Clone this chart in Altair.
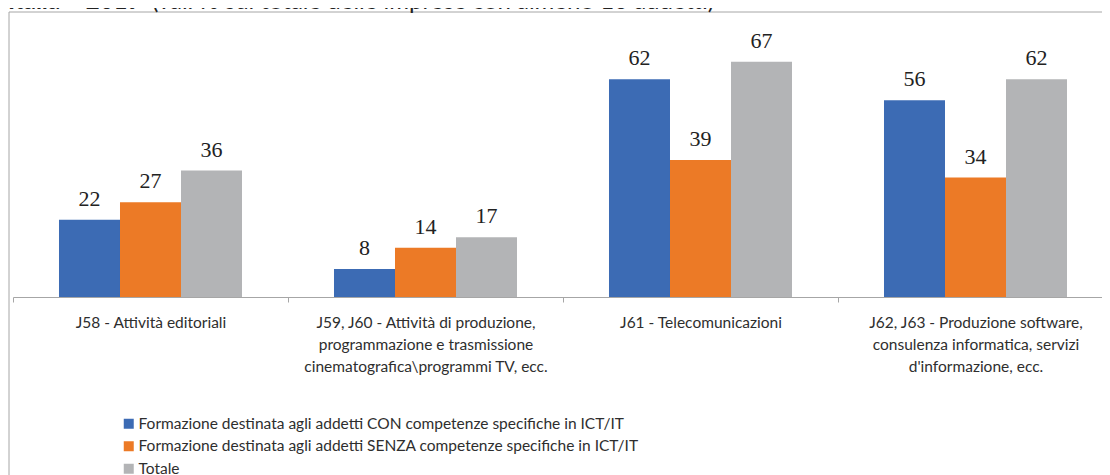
import altair as alt
import pandas as pd

# ---- data ----
categories = [
    "J58 - Attività editoriali",
    "J59, J60 - Attività di produzione,|programmazione e trasmissione|cinematografica\\programmi TV, ecc.",
    "J61 - Telecomunicazioni",
    "J62, J63 - Produzione software,|consulenza informatica, servizi|d'informazione, ecc.",
]
series = [
    "Formazione destinata agli addetti CON competenze specifiche in ICT/IT",
    "Formazione destinata agli addetti SENZA competenze specifiche in ICT/IT",
    "Totale",
]
con = [22, 8, 62, 56]
senza = [27, 14, 39, 34]
totale = [36, 17, 67, 62]
colors = ["#3C6BB4", "#EC7A26", "#B3B4B6"]
title_bold = "Italia – 2019"
title_rest = "(val. % sul totale delle imprese con almeno 10 addetti)"

SANS = "Lato"
SERIF = "Liberation Serif"
TXT = "#2E2E2E"
LINE = "#A6A6A6"

rows = []
for i, c in enumerate(categories):
    for s, vals in zip(series, [con, senza, totale]):
        rows.append({"cat": c, "serie": s, "val": vals[i]})
df = pd.DataFrame(rows)

x = alt.X(
    "cat:N",
    sort=categories,
    title=None,
    scale=alt.Scale(range=[0, 1100], paddingInner=0, paddingOuter=0),
    axis=alt.Axis(
        labelExpr="split(datum.label, '|')",
        labelAngle=0,
        tickBand="extent",
        domainColor=LINE,
        tickColor=LINE,
        tickSize=5,
        labelFont=SANS,
        labelFontSize=15.5,
        labelColor=TXT,
        labelLineHeight=22,
        labelPadding=13,
        labelBaseline="top",
        labelLimit=500,
        grid=False,
    ),
)
xo = alt.XOffset("serie:N", sort=series, scale=alt.Scale(paddingInner=0, paddingOuter=0.754))
y = alt.Y("val:Q", scale=alt.Scale(domain=[0, 80], nice=False), axis=None)

bars = alt.Chart(df).mark_bar().encode(
    x=x,
    xOffset=xo,
    y=y,
    color=alt.Color(
        "serie:N",
        sort=series,
        scale=alt.Scale(domain=series, range=colors),
        legend=alt.Legend(
            title=None,
            orient="none",
            legendX=108,
            legendY=400,
            symbolType="square",
            symbolSize=100,
            symbolStrokeWidth=0,
            labelFont=SANS,
            labelFontSize=15.5,
            labelColor=TXT,
            labelOffset=2,
            rowPadding=5.5,
            padding=0,
            labelLimit=800,
        ),
    ),
)

labels = alt.Chart(df).mark_text(
    font=SERIF, fontSize=22, color="#222222", dy=-14, baseline="alphabetic", align="center"
).encode(x=x, xOffset=xo, y=y, text=alt.Text("val:Q"))

one = pd.DataFrame({"k": [0]})
frame_left = alt.Chart(one).mark_rule(color=LINE, strokeWidth=1).encode(
    x=alt.value(-4), y=alt.value(-4), y2=alt.value(470)
)
frame_top = alt.Chart(one).mark_rule(color=LINE, strokeWidth=1).encode(
    x=alt.value(-4), x2=alt.value(1100), y=alt.value(-4)
)

tb = pd.DataFrame({"t": [title_bold]})
tr = pd.DataFrame({"t": [title_rest]})
t1 = alt.Chart(tb).mark_text(
    font=SANS, fontSize=24, fontWeight="bold", color="#222222", align="left", baseline="alphabetic"
).encode(x=alt.value(-5), y=alt.value(-7), text="t:N")
t2 = alt.Chart(tr).mark_text(
    font=SANS, fontSize=24, color="#222222", align="left", baseline="alphabetic"
).encode(x=alt.value(139), y=alt.value(-7), text="t:N")

chart = (
    alt.layer(bars, labels, frame_left, frame_top, t1, t2)
    .properties(
        width=1089,
        height=281,
        padding={"left": 5, "top": 8, "right": 0, "bottom": 178},
        autosize=alt.AutoSizeParams(type="none"),
    )
    .configure_view(stroke=None)
)

chart.save("out.html", embed_options={"renderer": "svg", "actions": False})
